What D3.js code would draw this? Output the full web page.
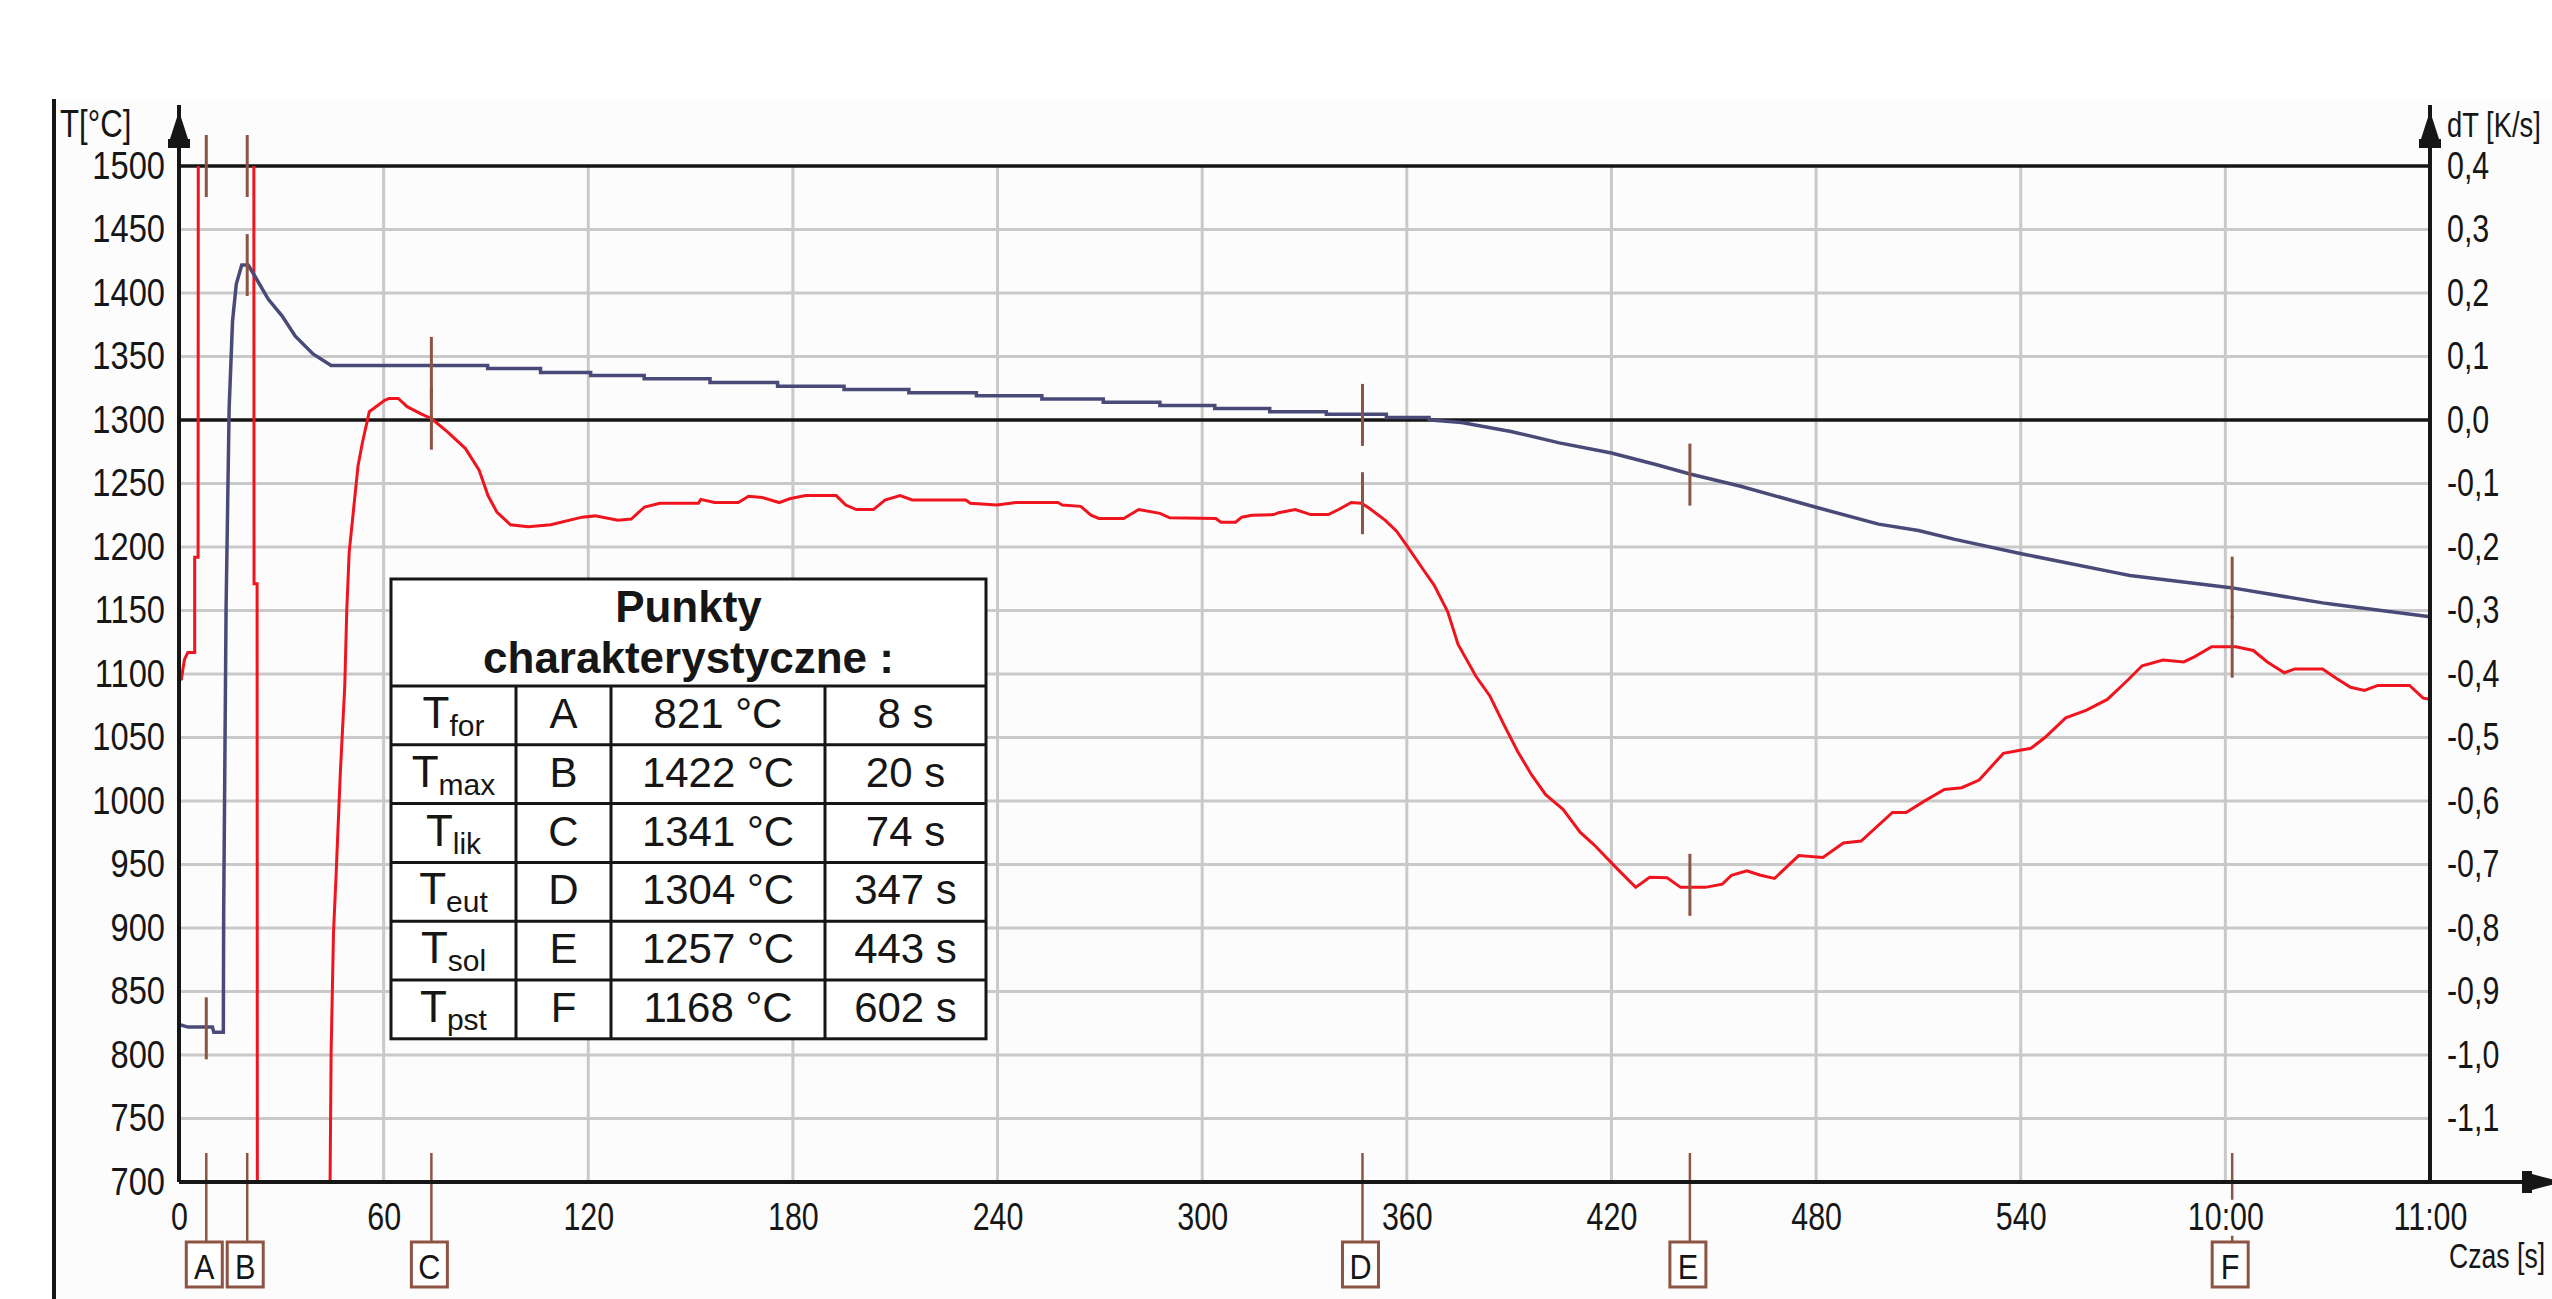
<!DOCTYPE html>
<html><head><meta charset="utf-8">
<script src="https://cdn.jsdelivr.net/npm/d3@7"></script>
<style>html,body{margin:0;padding:0;background:#fff;overflow:hidden}svg{display:block}</style>
</head><body>
<svg id="c" width="2552" height="1299"></svg>
<script>
// ---------- DATA ----------
// Temperature curve T [°C] vs time [s]
const timeT = [0,2.6,9.8,10.2,13.0,13.1,13.8,14.7,15.7,16.8,18.4,20.3,22.3,26.2,30.2,34.1,39.3,44.6,
  90.5,90.5,106,106,120.7,120.7,136.4,136.4,155.7,155.7,175.5,175.5,195,195,214,214,233.8,233.8,
  253,253,271,271,287.6,287.6,303.7,303.7,319.8,319.8,336.4,336.4,354,354,366.5,366.5,
  376,390.5,404.7,420,433,443,457.6,479.7,498.3,510,520.7,540.5,567.4,572,601.6,628.5,631.5,660];
const tempT = [824,822,822,818,818,913,1151,1309,1378,1407,1422,1422,1413,1395,1382,1366,1352,1343,
  1343,1340.5,1340.5,1337.5,1337.5,1335,1335,1332.5,1332.5,1329.5,1329.5,1326.5,1326.5,1324,1324,1321.5,1321.5,1319,
  1319,1316.5,1316.5,1314,1314,1311.5,1311.5,1309,1309,1306.5,1306.5,1304.5,1304.5,1302,1302,1300,
  1298,1291,1282,1274,1265,1257.5,1248,1231.5,1218,1213,1206,1194.5,1180,1177.5,1168,1156,1155,1145];
// Derivative curve dT [K/s] vs time [s]  (values beyond the scale run off the plot)
const timeDT = [0,0.7,1.6,2.6,4.6,4.6,5.6,5.7,21.9,22.0,22.9,23.0,44.2,44.3,44.6,45.3,46.0,47.3,48.6,49.2,49.9,
  51.2,52.5,53.8,55.8,60.3,61.6,64.3,66.9,70.8,74.1,78.8,84,88,90.6,93.2,97.2,102.4,109,118.2,122,128.7,132.6,
  136.5,141,152.3,153,157,164,167,171,176,179,183.7,192.7,195.5,198.6,203.6,207,211.4,215,230.7,232,239.8,
  245.4,257.7,259,264.4,267.4,269.7,277,281.4,287.6,290.5,304,305.5,309.8,311.6,314.6,321,322.4,327.3,331.8,
  337,340,343.7,346.7,349,353.7,357,360,365,368,372,375,380.3,384.4,388.5,392.5,396.6,400.7,405.8,410.8,
  414.9,421,427.1,431.2,436.3,440.3,447.5,452.5,455.2,459.7,463.7,467.8,474.9,482,488,493.2,502.4,506.4,
  511.5,517.6,522.7,527.8,534.9,543,547.1,553.2,559.3,565.4,571.5,575.6,581.7,587.8,590.9,596,603.1,608.2,
  612.3,617.3,620.4,628.5,632.6,636.7,640.8,644.7,654,658,660];
const rateDT = [-0.41,-0.408,-0.377,-0.366,-0.366,-0.216,-0.216,1.0,1.0,-0.258,-0.258,-1.6,-1.6,-1.2,-0.996,-0.807,-0.724,-0.556,-0.419,-0.298,-0.208,
  -0.14,-0.072,-0.035,0.013,0.031,0.034,0.034,0.021,0.010,0.002,-0.019,-0.045,-0.079,-0.119,-0.145,-0.165,-0.168,-0.165,-0.153,-0.151,-0.158,-0.156,
  -0.137,-0.131,-0.131,-0.125,-0.130,-0.130,-0.120,-0.122,-0.130,-0.124,-0.119,-0.119,-0.134,-0.141,-0.141,-0.126,-0.119,-0.126,-0.126,-0.131,-0.134,
  -0.130,-0.130,-0.134,-0.136,-0.150,-0.155,-0.155,-0.141,-0.147,-0.154,-0.155,-0.161,-0.161,-0.153,-0.150,-0.149,-0.146,-0.141,-0.149,
  -0.149,-0.141,-0.130,-0.131,-0.139,-0.158,-0.175,-0.198,-0.237,-0.260,-0.302,-0.353,-0.404,-0.435,-0.480,-0.522,-0.559,-0.590,-0.613,-0.649,
  -0.669,-0.703,-0.736,-0.720,-0.721,-0.736,-0.736,-0.731,-0.717,-0.710,-0.717,-0.722,-0.686,-0.689,-0.666,-0.663,-0.618,-0.618,
  -0.601,-0.582,-0.579,-0.567,-0.525,-0.517,-0.500,-0.469,-0.457,-0.440,-0.409,-0.387,-0.378,-0.381,-0.373,-0.357,-0.357,-0.363,
  -0.381,-0.398,-0.392,-0.392,-0.407,-0.421,-0.426,-0.418,-0.418,-0.438,-0.44];

// Axis ticks
const xTickValues = [0,60,120,180,240,300,360,420,480,540,600,660];
const xTickLabels = ["0","60","120","180","240","300","360","420","480","540","10:00","11:00"];
const yTickValuesT = [700,750,800,850,900,950,1000,1050,1100,1150,1200,1250,1300,1350,1400,1450,1500];
const yTickLabelsT = ["700","750","800","850","900","950","1000","1050","1100","1150","1200","1250","1300","1350","1400","1450","1500"];
const yTickValuesDT = [0.4,0.3,0.2,0.1,0.0,-0.1,-0.2,-0.3,-0.4,-0.5,-0.6,-0.7,-0.8,-0.9,-1.0,-1.1];
const yTickLabelsDT = ["0,4","0,3","0,2","0,1","0,0","-0,1","-0,2","-0,3","-0,4","-0,5","-0,6","-0,7","-0,8","-0,9","-1,0","-1,1"];

// Characteristic points
const markerNames = ["A","B","C","D","E","F"];
const markerTimes = [8,20,74,347,443,602];
const markerTemps = [821,1422,1341,1304,1257,1168];
const markerRates = [0.4,0.4,0.002,-0.131,-0.732,-0.357]; // A,B: derivative off-scale (top edge)
const markerSubs  = ["for","max","lik","eut","sol","pst"];
const tableTitle  = ["Punkty","charakterystyczne :"];

// ---------- DRAWING ----------
const W=2552,H=1299;
const FONT="'Liberation Sans', Arial, Helvetica, sans-serif";
const BLUE="#4a4a78", RED="#f0141e", BROWN="#8e5443", GRID="#c9c9c9", INK="#161616", BG="#fcfcfc";
const svg=d3.select("#c");

const x = d3.scaleLinear().domain([0,660]).range([179,2430]);
const yT = d3.scaleLinear().domain([700,1500]).range([1182,166]);
const yD = d3.scaleLinear().domain([-1.2,0.4]).range([1182,166]);

svg.append("rect").attr("width",W).attr("height",H).attr("fill","#fff");
svg.append("rect").attr("x",54).attr("y",99).attr("width",W-54).attr("height",H-99).attr("fill",BG);
svg.append("line").attr("x1",54).attr("x2",54).attr("y1",99).attr("y2",H).attr("stroke",INK).attr("stroke-width",4);

// grid
svg.append("g").selectAll("line").data(yTickValuesT.filter(v=>v>700&&v<1500&&v!==1300)).join("line")
  .attr("x1",x(0)).attr("x2",x(660)).attr("y1",d=>yT(d)).attr("y2",d=>yT(d))
  .attr("stroke",GRID).attr("stroke-width",3);
svg.append("g").selectAll("line").data(xTickValues.filter(v=>v>0&&v<660)).join("line")
  .attr("x1",d=>x(d)).attr("x2",d=>x(d)).attr("y1",yT(1500)).attr("y2",yT(700))
  .attr("stroke",GRID).attr("stroke-width",3);
// black reference lines: top and dT = 0
[yT(1500), yD(0)].forEach(yy=>{
  svg.append("line").attr("x1",x(0)).attr("x2",x(660)).attr("y1",yy).attr("y2",yy).attr("stroke",INK).attr("stroke-width",3.5);
});

// curves
svg.append("clipPath").attr("id","plot").append("rect")
  .attr("x",x(0)).attr("y",yT(1500)).attr("width",x(660)-x(0)).attr("height",yT(700)-yT(1500));
const lineT = d3.line().x(d=>x(d[0])).y(d=>yT(d[1]));
const lineD = d3.line().x(d=>x(d[0])).y(d=>yD(d[1]));
const gC = svg.append("g").attr("clip-path","url(#plot)");
gC.append("path").datum(d3.zip(timeDT,rateDT)).attr("d",lineD).attr("fill","none").attr("stroke",RED).attr("stroke-width",3).attr("stroke-linejoin","miter");
gC.append("path").datum(d3.zip(timeT,tempT)).attr("d",lineT).attr("fill","none").attr("stroke",BLUE).attr("stroke-width",3.5);

// marker ticks
const half=31;
const gM = svg.append("g").attr("stroke",BROWN).attr("stroke-width",3);
markerTimes.forEach((t,i)=>{
  const mx=x(t);
  const yt=yT(markerTemps[i]);
  const yd=yD(Math.max(-1.2,Math.min(0.4,markerRates[i])));
  gM.append("line").attr("x1",mx).attr("x2",mx).attr("y1",yt-half).attr("y2",yt+half);
  gM.append("line").attr("x1",mx).attr("x2",mx).attr("y1",yd-half).attr("y2",yd+half);
  gM.append("line").attr("x1",mx).attr("x2",mx).attr("y1",yT(700)-29).attr("y2",1242).attr("stroke-width",2.5);
});

// axes lines and arrows
svg.append("line").attr("x1",x(0)).attr("x2",x(0)).attr("y1",105).attr("y2",yT(700)).attr("stroke",INK).attr("stroke-width",4);
svg.append("line").attr("x1",x(660)).attr("x2",x(660)).attr("y1",105).attr("y2",yT(700)).attr("stroke",INK).attr("stroke-width",4);
svg.append("line").attr("x1",x(0)).attr("x2",W).attr("y1",yT(700)).attr("y2",yT(700)).attr("stroke",INK).attr("stroke-width",4);
function upArrow(cx){
  svg.append("polygon").attr("points",[[cx,111],[cx+9,139],[cx+11,139],[cx+11,148],[cx-11,148],[cx-11,139],[cx-9,139]].join(" ")).attr("fill",INK);
}
upArrow(x(0)); upArrow(x(660));
const ay=yT(700);
svg.append("polygon").attr("points",[[2522,ay-11],[2532,ay-11],[2532,ay-8],[2562,ay],[2532,ay+8],[2532,ay+11],[2522,ay+11]].join(" ")).attr("fill",INK);

// axis labels
function styleText(sel,sx){
  sel.attr("font-size",38).attr("font-family",FONT).attr("fill",INK).attr("transform",`scale(${sx},1)`);
}
const sxL=0.86, sxR=0.8, sxB=0.8;
const gL = svg.append("g").attr("transform",`translate(${x(0)},0)`)
  .call(d3.axisLeft(yT).tickValues(yTickValuesT).tickFormat((d,i)=>yTickLabelsT[i]).tickSize(0).tickPadding(14/sxL));
gL.select(".domain").remove(); styleText(gL.selectAll("text"),sxL);
const gR = svg.append("g").attr("transform",`translate(${x(660)},0)`)
  .call(d3.axisRight(yD).tickValues(yTickValuesDT).tickFormat((d,i)=>yTickLabelsDT[i]).tickSize(0).tickPadding(17/sxR));
gR.select(".domain").remove(); styleText(gR.selectAll("text"),sxR);
const gB = svg.append("g").attr("transform",`translate(0,${yT(700)})`)
  .call(d3.axisBottom(x).tickValues(xTickValues).tickFormat((d,i)=>xTickLabels[i]).tickSize(0).tickPadding(21));
gB.select(".domain").remove(); styleText(gB.selectAll("text"),sxB);
gB.selectAll(".tick").each(function(){
  const t=d3.select(this).select("text"); const b=t.node().getBBox();
  d3.select(this).insert("rect","text").attr("x",b.x*sxB-3).attr("y",b.y+4).attr("width",b.width*sxB+6).attr("height",b.height-6).attr("fill",BG);
});

function label(txt,px,py,sx,fs,anchor){
  svg.append("text").attr("transform",`translate(${px},${py}) scale(${sx},1)`).attr("text-anchor",anchor||"start")
    .attr("font-size",fs).attr("font-family",FONT).attr("fill",INK).text(txt);
}
label("T[°C]",60,137,0.82,38);
label("dT [K/s]",2447,137,0.76,36);
label("Czas [s]",2449,1268,0.74,36);

// marker boxes at bottom
markerTimes.forEach((t,i)=>{
  const mx=x(t)-2;
  svg.append("rect").attr("x",mx-18).attr("y",1242).attr("width",36).attr("height",45).attr("fill","#fff").attr("stroke",BROWN).attr("stroke-width",3);
  svg.append("text").attr("transform",`translate(${mx},1279) scale(0.85,1)`).attr("text-anchor","middle")
    .attr("font-size",36).attr("font-family",FONT).attr("fill",INK).text(markerNames[i]);
});

// table
const tx0=391, tx1=986, ty0=579, tHead=686, rowH=58.8;
const cols=[391,516,611,825,986];
const gTab = svg.append("g");
gTab.append("rect").attr("x",tx0).attr("y",ty0).attr("width",tx1-tx0).attr("height",tHead+6*rowH-ty0).attr("fill","#fff").attr("stroke",INK).attr("stroke-width",3);
for(let i=0;i<6;i++){
  const yy=tHead+i*rowH;
  gTab.append("line").attr("x1",tx0).attr("x2",tx1).attr("y1",yy).attr("y2",yy).attr("stroke",INK).attr("stroke-width",3);
}
cols.slice(1,4).forEach(cx=>gTab.append("line").attr("x1",cx).attr("x2",cx).attr("y1",tHead).attr("y2",tHead+6*rowH).attr("stroke",INK).attr("stroke-width",3));
gTab.append("text").attr("x",(tx0+tx1)/2).attr("y",622).attr("text-anchor","middle").attr("font-family",FONT).attr("font-weight","bold").attr("font-size",44).attr("fill",INK).text(tableTitle[0]);
gTab.append("text").attr("x",(tx0+tx1)/2).attr("y",673).attr("text-anchor","middle").attr("font-family",FONT).attr("font-weight","bold").attr("font-size",44).attr("fill",INK).text(tableTitle[1]);
markerNames.forEach((n,i)=>{
  const base=tHead+i*rowH+42;
  const t1=gTab.append("text").attr("x",(cols[0]+cols[1])/2).attr("y",base).attr("text-anchor","middle").attr("font-family",FONT).attr("fill",INK).attr("font-size",44);
  t1.append("tspan").text("T");
  t1.append("tspan").attr("font-size",30).attr("dy",8).text(markerSubs[i]);
  gTab.append("text").attr("x",(cols[1]+cols[2])/2).attr("y",base).attr("text-anchor","middle").attr("font-family",FONT).attr("fill",INK).attr("font-size",42).text(n);
  gTab.append("text").attr("x",(cols[2]+cols[3])/2).attr("y",base).attr("text-anchor","middle").attr("font-family",FONT).attr("fill",INK).attr("font-size",42).text(`${markerTemps[i]} °C`);
  gTab.append("text").attr("x",(cols[3]+cols[4])/2).attr("y",base).attr("text-anchor","middle").attr("font-family",FONT).attr("fill",INK).attr("font-size",42).text(`${markerTimes[i]} s`);
});
</script>
</body></html>
